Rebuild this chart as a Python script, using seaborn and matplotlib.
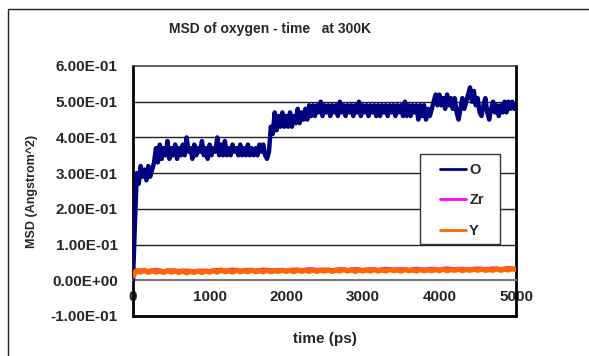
import matplotlib
matplotlib.use("Agg")
import matplotlib.pyplot as plt
import seaborn as sns
from matplotlib.lines import Line2D
from matplotlib.patches import Rectangle
from matplotlib.ticker import FuncFormatter

# ---- data ----
time_o = [i * 25 for i in range(201)]
msd_o = [0.00, 0.16, 0.30, 0.27, 0.32, 0.29, 0.31, 0.28,
         0.32, 0.29, 0.31, 0.33, 0.37, 0.33, 0.38, 0.34,
         0.37, 0.35, 0.39, 0.34, 0.37, 0.35, 0.38, 0.34,
         0.37, 0.35, 0.38, 0.35, 0.40, 0.36, 0.37, 0.34,
         0.38, 0.35, 0.37, 0.36, 0.39, 0.35, 0.37, 0.34,
         0.38, 0.35, 0.37, 0.36, 0.40, 0.35, 0.38, 0.35,
         0.39, 0.35, 0.37, 0.35, 0.38, 0.36, 0.37, 0.35,
         0.38, 0.35, 0.37, 0.35, 0.38, 0.35, 0.37, 0.35,
         0.37, 0.35, 0.38, 0.36, 0.38, 0.35, 0.34, 0.36,
         0.43, 0.41, 0.47, 0.42, 0.46, 0.43, 0.47, 0.43,
         0.46, 0.43, 0.47, 0.43, 0.46, 0.44, 0.48, 0.44,
         0.47, 0.45, 0.48, 0.45, 0.49, 0.46, 0.49, 0.46,
         0.49, 0.47, 0.50, 0.46, 0.49, 0.47, 0.49, 0.46,
         0.49, 0.47, 0.49, 0.46, 0.50, 0.47, 0.49, 0.46,
         0.49, 0.47, 0.49, 0.46, 0.49, 0.47, 0.50, 0.46,
         0.49, 0.47, 0.49, 0.46, 0.49, 0.47, 0.49, 0.46,
         0.49, 0.46, 0.49, 0.47, 0.49, 0.46, 0.49, 0.47,
         0.49, 0.46, 0.49, 0.47, 0.49, 0.46, 0.50, 0.46,
         0.49, 0.46, 0.49, 0.47, 0.49, 0.45, 0.49, 0.46,
         0.49, 0.45, 0.48, 0.46, 0.48, 0.50, 0.52, 0.49,
         0.52, 0.49, 0.51, 0.48, 0.52, 0.49, 0.51, 0.48,
         0.51, 0.47, 0.45, 0.48, 0.51, 0.48, 0.50, 0.52,
         0.54, 0.50, 0.53, 0.49, 0.51, 0.47, 0.46, 0.49,
         0.51, 0.47, 0.45, 0.48, 0.50, 0.47, 0.49, 0.46,
         0.49, 0.47, 0.50, 0.47, 0.50, 0.48, 0.50, 0.48,
         0.49]

time_zr = [i * 100 for i in range(51)]
msd_zr = [0.024, 0.029, 0.027, 0.030, 0.026, 0.029, 0.027, 0.028, 0.026, 0.028,
          0.027, 0.030, 0.028, 0.031, 0.028, 0.030, 0.028, 0.031, 0.029, 0.030,
          0.028, 0.031, 0.029, 0.032, 0.030, 0.031, 0.029, 0.032, 0.030, 0.032,
          0.030, 0.032, 0.030, 0.033, 0.031, 0.032, 0.030, 0.033, 0.031, 0.033,
          0.031, 0.034, 0.032, 0.033, 0.032, 0.034, 0.032, 0.034, 0.032, 0.035,
          0.033]

time_y = [i * 50 for i in range(101)]
msd_y = [0.012, 0.027, 0.023, 0.028, 0.022, 0.027, 0.023, 0.026, 0.022, 0.027,
         0.023, 0.026, 0.022, 0.026, 0.021, 0.025, 0.022, 0.026, 0.022, 0.026,
         0.023, 0.027, 0.023, 0.029, 0.024, 0.027, 0.023, 0.028, 0.024, 0.027,
         0.024, 0.028, 0.024, 0.027, 0.024, 0.028, 0.024, 0.027, 0.025, 0.028,
         0.025, 0.028, 0.024, 0.029, 0.025, 0.028, 0.025, 0.029, 0.025, 0.028,
         0.026, 0.029, 0.025, 0.028, 0.026, 0.030, 0.026, 0.029, 0.025, 0.029,
         0.026, 0.029, 0.026, 0.030, 0.026, 0.029, 0.026, 0.030, 0.027, 0.029,
         0.026, 0.030, 0.027, 0.029, 0.026, 0.030, 0.027, 0.029, 0.027, 0.030,
         0.027, 0.031, 0.027, 0.030, 0.028, 0.031, 0.027, 0.030, 0.028, 0.031,
         0.028, 0.031, 0.028, 0.030, 0.028, 0.032, 0.028, 0.031, 0.029, 0.032,
         0.030]

series_labels = ["O", "Zr", "Y"]
series_colors = ["#000080", "#FF00FF", "#FF6600"]
y_ticks = [-0.1, 0.0, 0.1, 0.2, 0.3, 0.4, 0.5, 0.6]
x_ticks = [0, 1000, 2000, 3000, 4000, 5000]

# ---- style ----
sns.set_style("white")
plt.rcParams["font.family"] = ["Liberation Sans", "DejaVu Sans"]
plt.rcParams["font.weight"] = "bold"

W, H = 589, 356
fig = plt.figure(figsize=(W / 100, H / 100), dpi=100)
ax = fig.add_axes([133 / W, 1 - 316 / H, (516 - 133) / W, (316 - 66) / H])

# outer chart border
fig.patches.append(Rectangle((8 / W, -0.2), 2.0, (356 - 9) / H + 0.2,
                             transform=fig.transFigure, fill=False,
                             edgecolor="#222222", linewidth=1.0))

# gridlines
for yv in [0.1, 0.2, 0.3, 0.4, 0.5]:
    ax.axhline(yv, color="#222222", linewidth=1.0, zorder=1)

sns.lineplot(x=time_o, y=msd_o, ax=ax, color=series_colors[0], linewidth=3.2, zorder=3)
sns.lineplot(x=time_zr, y=msd_zr, ax=ax, color=series_colors[1], linewidth=2.5, zorder=4)
sns.lineplot(x=time_y, y=msd_y, ax=ax, color=series_colors[2], linewidth=3.8, zorder=5)

ax.set_xlim(0, 5000)
ax.set_ylim(-0.1, 0.6)
ax.set_xticks(x_ticks)
ax.set_yticks(y_ticks)
ax.yaxis.set_major_formatter(FuncFormatter(
    lambda v, p: "0.00E+00" if abs(v) < 1e-12 else "%.2E" % v))

for s in ["left", "right"]:
    ax.spines[s].set_color("black")
    ax.spines[s].set_linewidth(2.0)
ax.spines["top"].set_color("#444444")
ax.spines["top"].set_linewidth(1.2)
ax.spines["bottom"].set_position(("data", 0))
ax.spines["bottom"].set_color("#777777")
ax.spines["bottom"].set_linewidth(1.5)
ax.axhline(-0.1, color="black", linewidth=2.0, zorder=6, clip_on=False)

ax.tick_params(axis="y", length=0, pad=11, labelsize=11)
ax.tick_params(axis="x", direction="out", length=3, width=1, color="black", pad=4, labelsize=11)
for lab in ax.get_xticklabels() + ax.get_yticklabels():
    lab.set_fontweight("bold")

ax.set_xlabel("")
ax.set_ylabel("")
fig.text(32 / W, 1 - 191 / H, "MSD (Angstrom^2)", rotation=90, ha="center", va="center",
         fontsize=9, fontweight="bold")
fig.text(325 / W, 1 - 339 / H, "time (ps)", ha="center", va="center",
         fontsize=11, fontweight="bold")
fig.text(270 / W, 1 - 29 / H, "MSD of oxygen - time   at 300K", ha="center", va="center",
         fontsize=10, fontweight="bold")

# legend box (frame drawn as a patch for exact Excel-like padding)
fig.patches.append(Rectangle((420 / W, 1 - 244 / H), 80 / W, 90 / H,
                             transform=fig.transFigure, facecolor="white",
                             edgecolor="#333333", linewidth=1.0, zorder=9))
handles = [Line2D([], [], color=c, linewidth=2) for c in series_colors]
leg = fig.legend(handles, series_labels, loc="upper left",
                 bbox_to_anchor=(440 / W, 1 - 163 / H),
                 frameon=False,
                 prop={"weight": "bold", "size": 10.5}, handlelength=1.75,
                 labelspacing=1.12, borderpad=0, handletextpad=0.25, borderaxespad=0)
leg.set_zorder(10)

fig.savefig("out.png", dpi=100)
